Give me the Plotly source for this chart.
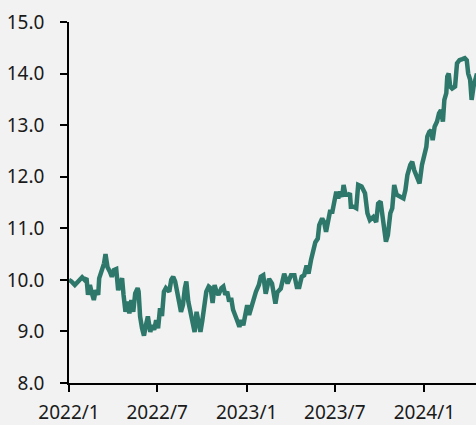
import pandas as pd
import plotly.graph_objects as go

# Series: days after 2022-01-01 and values
start_date = "2022-01-01"
day_offsets = [
    0, 5, 12, 18, 27, 32, 36, 39, 43, 47, 51, 55, 60, 62, 68, 72, 75, 79, 84, 88,
    92, 97, 101, 105, 109, 112, 116, 120, 124, 128, 132, 136, 141, 143, 146, 150,
    154, 158, 162, 167, 171, 175, 179, 183, 187, 191, 195, 199, 206, 210, 214,
    218, 222, 226, 230, 234, 238, 241, 245, 250, 254, 258, 262, 266, 270, 274,
    278, 282, 287, 291, 295, 299, 303, 307, 313, 317, 321, 325, 329, 333, 337,
    341, 345, 350, 354, 358, 362, 366, 370, 374, 378, 384, 390, 394, 399, 404,
    411, 417, 424, 428, 435, 442, 449, 456, 463, 468, 473, 478, 483, 488, 492,
    497, 502, 506, 511, 514, 520, 524, 528, 532, 536, 541, 545, 549, 553, 557,
    561, 564, 568, 574, 577, 579, 584, 590, 594, 601, 608, 613, 618, 625, 631,
    635, 640, 646, 651, 655, 660, 664, 668, 673, 680, 687, 691, 695, 701, 705,
    709, 714, 720, 725, 729, 734, 736, 740, 744, 747, 751, 756, 760, 764, 768,
    771, 775, 777, 780, 783, 787, 793, 797, 802, 808, 813, 817, 820, 824, 827,
    831, 835, 838,
]
values = [
    10.00, 9.97, 9.90, 9.95, 10.05, 10.00, 10.03, 9.71, 9.90, 9.74, 9.61, 9.80,
    9.71, 10.03, 10.19, 10.32, 10.50, 10.25, 10.16, 10.06, 10.19, 10.21, 9.80,
    9.90, 10.03, 9.71, 9.38, 9.58, 9.35, 9.61, 9.38, 9.74, 9.84, 9.77, 9.29,
    9.06, 8.92, 9.12, 9.29, 8.99, 9.12, 9.03, 9.22, 9.06, 9.45, 9.30, 9.77,
    9.84, 9.77, 10.00, 10.06, 9.97, 9.71, 9.58, 9.38, 9.51, 9.84, 9.97, 9.58,
    9.32, 9.16, 8.99, 9.38, 9.16, 8.99, 9.22, 9.45, 9.77, 9.87, 9.84, 9.55,
    9.90, 9.77, 9.71, 9.84, 9.87, 9.71, 9.77, 9.58, 9.65, 9.42, 9.29, 9.22,
    9.09, 9.22, 9.12, 9.38, 9.51, 9.32, 9.48, 9.58, 9.77, 9.90, 10.06, 10.09,
    9.73, 10.02, 9.93, 9.54, 9.76, 9.83, 10.12, 9.93, 10.09, 10.09, 9.86, 9.86,
    10.06, 10.09, 10.28, 10.12, 10.38, 10.60, 10.73, 10.80, 11.06, 11.19, 11.12,
    10.93, 11.19, 11.32, 11.32, 11.58, 11.71, 11.58, 11.71, 11.61, 11.84, 11.65,
    11.65, 11.68, 11.42, 11.42, 11.39, 11.84, 11.81, 11.68, 11.29, 11.16, 11.22,
    11.12, 11.48, 11.52, 11.03, 10.74, 10.87, 11.29, 11.39, 11.84, 11.65, 11.61,
    11.58, 11.74, 12.03, 12.23, 12.29, 12.13, 12.03, 11.87, 12.23, 12.39, 12.58,
    12.78, 12.87, 12.90, 12.71, 12.97, 13.07, 13.23, 13.29, 13.07, 13.49, 13.62,
    13.94, 14.00, 13.75, 13.71, 13.75, 14.20, 14.26, 14.28, 14.30, 14.26, 14.00,
    13.88, 13.49, 13.75, 13.91, 14.00,
]
x_tick_values = ["2022-01-01", "2022-07-01", "2023-01-01", "2023-07-01", "2024-01-01"]
x_tick_labels = ["2022/1", "2022/7", "2023/1", "2023/7", "2024/1"]
y_tick_values = [8, 9, 10, 11, 12, 13, 14, 15]
y_tick_labels = ["8.0", "9.0", "10.0", "11.0", "12.0", "13.0", "14.0", "15.0"]
x_range = ["2022-01-01", "2024-04-16"]
y_range = [8, 15]

dates = pd.Timestamp(start_date) + pd.to_timedelta(day_offsets, unit="D")

fig = go.Figure()
fig.add_trace(go.Scatter(
    x=dates, y=values, mode="lines",
    line=dict(color="#2d786a", width=4.5),
    hoverinfo="skip", showlegend=False, cliponaxis=True,
))

font = dict(family="Noto Sans, Open Sans, sans-serif", size=19, color="#1a1a1a")
fig.update_layout(
    width=476, height=425,
    margin=dict(l=69, r=0, t=22, b=42, pad=0, autoexpand=False),
    paper_bgcolor="#f2f2f2", plot_bgcolor="#f2f2f2",
    font=font,
)
fig.update_xaxes(
    range=x_range, tickmode="array", tickvals=x_tick_values, ticktext=x_tick_labels,
    showgrid=False, zeroline=False, showline=True, linecolor="#000000", linewidth=1.5,
    ticks="outside", ticklen=7, tickwidth=1.5, tickcolor="#000000",
    ticklabelstandoff=4, tickfont=font, automargin=False,
)
fig.update_yaxes(
    range=y_range, tickmode="array", tickvals=y_tick_values, ticktext=y_tick_labels,
    showgrid=False, zeroline=False, showline=True, linecolor="#000000", linewidth=1.5,
    ticks="outside", ticklen=7, tickwidth=1.5, tickcolor="#000000",
    ticklabelstandoff=12, tickfont=font, automargin=False,
)

fig.write_html(
    "out.html",
    config={"displayModeBar": False},
    post_script="document.body.style.margin='0';document.body.style.background='#f2f2f2';",
)
